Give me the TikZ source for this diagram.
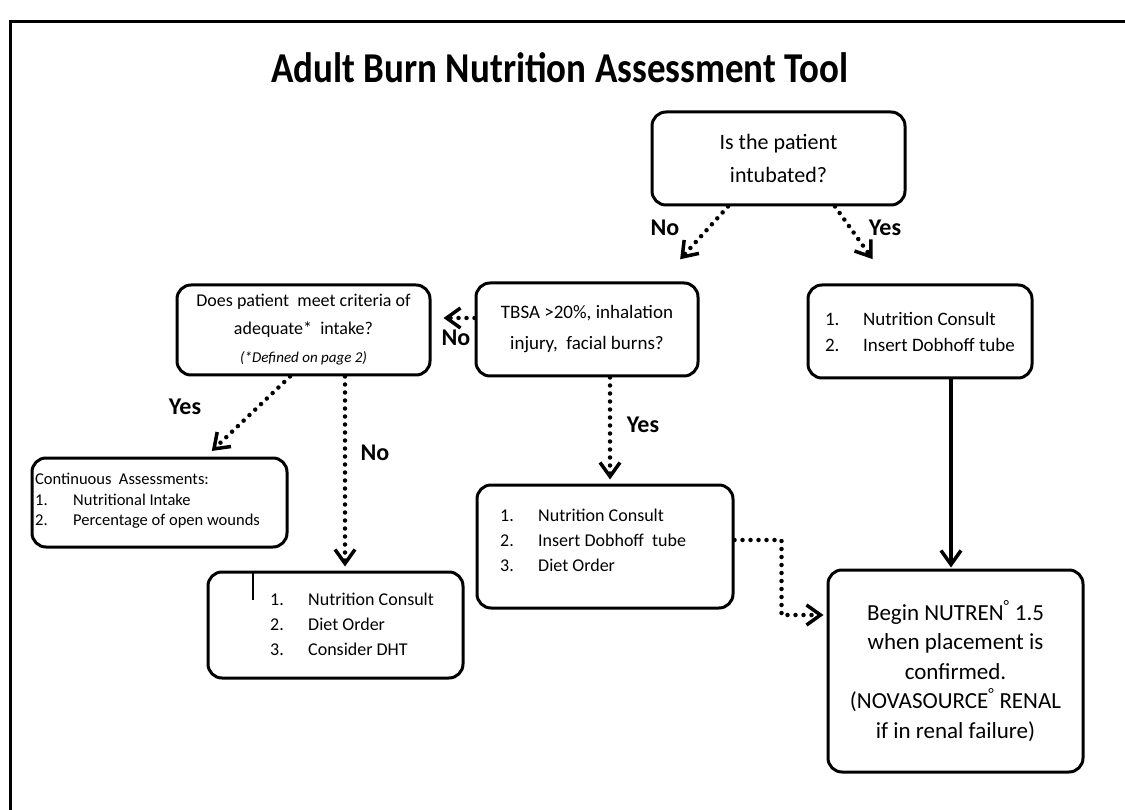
\documentclass[tikz,border=0pt]{standalone}
\usepackage{fontspec}
\setmainfont{Carlito}
\usetikzlibrary{arrows.meta}

\newcommand{\itm}[1]{\makebox[38pt][l]{#1}}
\newcommand{\fs}[2]{\fontsize{#1}{#2}\selectfont}

\begin{document}
\begin{tikzpicture}[x=1pt,y=-1pt,
    box/.style={draw, line width=3pt, rounded corners=14pt, inner sep=0pt, align=center},
    txt/.style={inner sep=0pt, align=left, anchor=west},
    dotarr/.style={line width=4.5pt, line cap=round, dash pattern=on 0pt off 8pt,
      -{Straight Barb[length=14pt,width=20pt,line width=3.5pt]}},
    solarr/.style={line width=3.5pt, -{Straight Barb[length=14pt,width=20pt,line width=3.5pt]}},
    yn/.style={font=\fs{24}{28}\bfseries}]
    \useasboundingbox (0,0) rectangle (1125,810);
    % frame and title
    \draw[line width=3pt] (10,815) -- (10,22) -- (1130,22);
    \node[font=\fs{37}{44}\bfseries] (title) at (560,68)
      {\scalebox{1}[1.15]{Adult Burn Nutrition Assessment Tool}};

    % questions
    \node[box, minimum width=253pt, minimum height=93pt, font=\fs{22}{33}] (intub) at (778.5,158.5)
      {Is the patient\\intubated?};
    \node[box, minimum width=222pt, minimum height=93pt, font=\fs{19}{31}] (tbsa) at (587,329.5)
      {TBSA >20\%, inhalation\\injury,\ \ facial burns?};
    \node[box, minimum width=253pt, minimum height=90pt, font=\fs{18}{28}] (adeq) at (303.5,330)
      {Does patient\ \ meet criteria of\\adequate*\ \ intake?\\{\fs{15}{26}\itshape (*Defined on page 2)}};

    % orders
    \node[box, minimum width=224pt, minimum height=93pt, align=left, font=\fs{19}{26}] (tube) at (920,331.5)
      {\itm{1.}Nutrition Consult\\\itm{2.}Insert Dobhoff tube};
    \node[box, minimum width=255pt, minimum height=89pt] (cont) at (159.5,502.5) {};
    \node[txt, font=\fs{16.5}{20.5}] (cont-txt) at (35,501)
      {Continuous\ \ Assessments:\\\itm{1.}Nutritional Intake\\\itm{2.}Percentage of open wounds};
    \node[box, minimum width=255pt, minimum height=106pt] (dietA) at (335.5,625) {};
    \node[txt, font=\fs{18}{25}] (dietA-txt) at (270,624)
      {\itm{1.}Nutrition Consult\\\itm{2.}Diet Order\\\itm{3.}Consider DHT};
    \draw[line width=2pt] (253,572) -- (253,600);
    \node[box, minimum width=256pt, minimum height=123pt] (dietB) at (605,546.5) {};
    \node[txt, font=\fs{18}{25}] (dietB-txt) at (500,540)
      {\itm{1.}Nutrition Consult\\\itm{2.}Insert Dobhoff\ \ tube\\\itm{3.}Diet Order};
    \node[box, minimum width=255pt, minimum height=202pt, font=\fs{23}{29.5}] (begin) at (955.5,671)
      {Begin NUTREN\textsuperscript{\textdegree} 1.5\\when placement is\\confirmed.\\(NOVASOURCE\textsuperscript{\textdegree} RENAL\\if in renal failure)};

    % connectors
    \draw[dotarr, shorten >=30pt] ([xshift=-50.5]intub.south) -- ([xshift=73]tbsa.north);
    \draw[dotarr, shorten >=30pt] ([xshift=56.5]intub.south) -- ([xshift=-30]tube.north);
    \draw[dotarr, shorten >=12pt] ([yshift=11.5]tbsa.west) -- ([yshift=12]adeq.east);
    \draw[dotarr, shorten >=8pt] ([xshift=-13.5]adeq.south) -- ([xshift=46.5]cont.north);
    \draw[dotarr, shorten >=4pt] ([xshift=41.5]adeq.south) -- ([xshift=41.5]adeq.south |- dietA.north);
    \draw[dotarr, shorten >=4pt] ([xshift=23]tbsa.south) -- ([xshift=23]tbsa.south |- dietB.north);
    \draw[dotarr, shorten >=3pt] ([yshift=6.5]dietB.east) -- ++(47,0) |- ([yshift=56]begin.west);
    \draw[solarr, shorten >=1pt] ([xshift=31]tube.south) -- ([xshift=31]tube.south |- begin.north);

    % answers
    \node[yn] (no1) at (665,228) {No};
    \node[yn] (yes1) at (885,228) {Yes};
    \node[yn] (no2) at (456,338) {No};
    \node[yn] (yes2) at (185,407) {Yes};
    \node[yn] (no3) at (375,453) {No};
    \node[yn] (yes3) at (643,425) {Yes};
\end{tikzpicture}
\end{document}
